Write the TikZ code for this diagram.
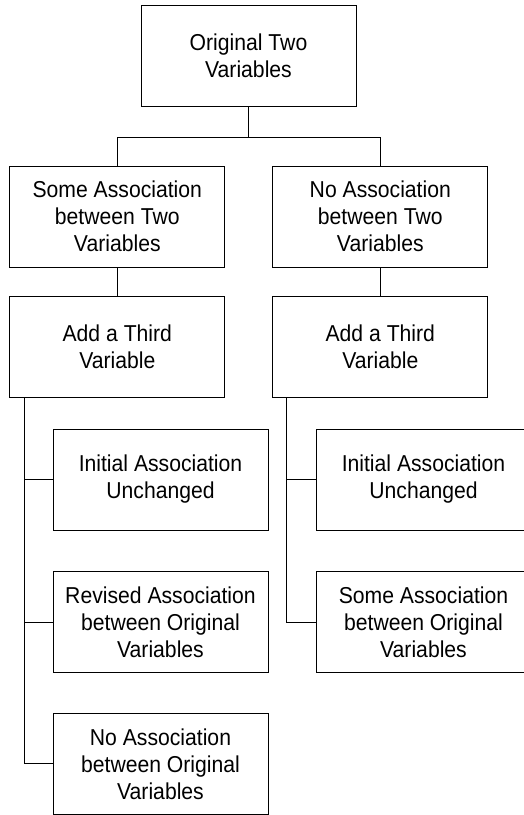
\documentclass[tikz,border=0pt]{standalone}
\usepackage{fontspec}
\setmainfont{Liberation Sans}[FakeStretch=0.92]
\usepackage{tikz}
\usetikzlibrary{positioning}

\begin{document}
\begin{tikzpicture}[x=1pt, y=1pt,
    box/.style={draw, line width=0.9pt, minimum width=215pt, minimum height=101pt,
      align=center, font=\fontsize{23}{27}\selectfont},
    link/.style={line width=0.9pt}]
      \useasboundingbox (0,0) rectangle (523,-815);

      % Nodes
      \node[box] (orig) at (248.5, -56) {Original Two\\Variables};
      \node[box] (someTwo) at (117.3, -216.5) {Some Association\\between Two\\Variables};
      \node[box] (noTwo) at (380.3, -216.5) {No Association\\between Two\\Variables};
      \node[box] (thirdL) at (117.3, -347.2) {Add a Third\\Variable};
      \node[box] (thirdR) at (380.3, -347.2) {Add a Third\\Variable};
      \node[box] (initL) at (160.5, -479.5) {Initial Association\\Unchanged};
      \node[box] (initR) at (423.5, -479.5) {Initial Association\\Unchanged};
      \node[box] (revised) at (160.5, -622.2) {Revised Association\\between Original\\Variables};
      \node[box] (someOrig) at (423.5, -622.2) {Some Association\\between Original\\Variables};
      \node[box] (noOrig) at (160.5, -763.8) {No Association\\between Original\\Variables};

      % Junctions
      \coordinate (split) at (248.5, -137);
      \coordinate (spineL) at (24, 0);
      \coordinate (spineR) at (286.7, 0);

      % Edges
      \draw[link] (orig) -- (split);
      \draw[link] (split) -| (someTwo.north);
      \draw[link] (split) -| (noTwo.north);
      \draw[link] (someTwo) -- (thirdL);
      \draw[link] (noTwo) -- (thirdR);
      \draw[link] (thirdL.south -| spineL) |- (noOrig.west);
      \draw[link] (initL.west -| spineL) -- (initL.west);
      \draw[link] (revised.west -| spineL) -- (revised.west);
      \draw[link] (thirdR.south -| spineR) |- (someOrig.west);
      \draw[link] (initR.west -| spineR) -- (initR.west);
    \end{tikzpicture}
\end{document}
